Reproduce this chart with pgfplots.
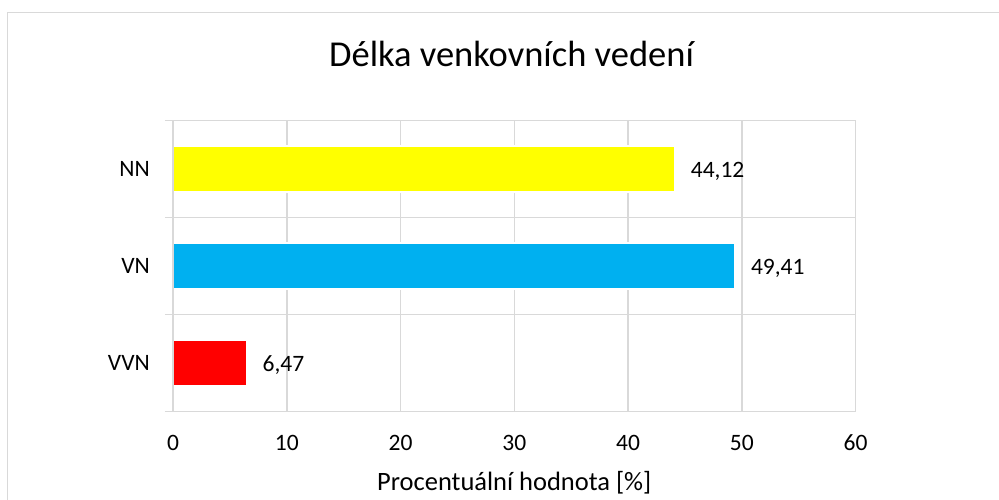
\documentclass[border=0pt]{standalone}
\usepackage{fontspec}
\setmainfont{Carlito}
\usepackage{pgfplots}
\pgfplotsset{compat=1.18}
\definecolor{gridgray}{HTML}{D9D9D9}
\definecolor{barYellow}{HTML}{FFFF00}
\definecolor{barBlue}{HTML}{00B0F0}
\definecolor{barRed}{HTML}{FF0000}
\begin{document}
\begin{tikzpicture}
\useasboundingbox (0bp,0bp) rectangle (999bp,500bp);
\fill[white] (0bp,0bp) rectangle (999bp,500bp);
\draw[gridgray, line width=1.6bp] (7.5bp,-10bp) -- (7.5bp,487.5bp) -- (1010bp,487.5bp);
\begin{axis}[
  at={(173bp,88.5bp)}, anchor=south west,
  scale only axis, width=682.5bp, height=291bp,
  xmin=0, xmax=60, ymin=-0.5, ymax=2.5,
  xtick={0,10,20,30,40,50,60},
  ytick={0,1,2}, yticklabels={VVN,VN,NN},
  minor ytick={-0.5,0.5,1.5,2.5},
  xmajorgrids, yminorgrids,
  grid style={draw=gridgray, line width=1.5bp},
  minor grid style={draw=gridgray, line width=1.5bp},
  axis line style={draw=gridgray, line width=1.5bp},
  major tick length=0pt, minor tick length=8bp,
  tick align=outside, ytick pos=left, xtick pos=bottom,
  tick style={draw=gridgray, line width=1.5bp},
  /pgf/number format/assume math mode=true,
  ticklabel style={font=\fontsize{23.5bp}{28bp}\selectfont, text=black},
  xticklabel style={anchor=base, inner sep=0pt, yshift=-39.2bp},
  yticklabel style={anchor=base east, inner sep=0pt, xshift=-23bp, yshift=-7.4bp},
  xlabel={Procentuální hodnota [\%]},
  xlabel style={at={(axis description cs:0.5,0)}, anchor=base, inner sep=0pt, yshift=-78.5bp, font=\fontsize{26.5bp}{31bp}\selectfont},
  xbar, bar width=46bp, bar shift=0pt,
  nodes near coords,
  every node near coord/.append style={anchor=west, inner sep=0pt, xshift=15bp, yshift=-2bp, font=\fontsize{23.5bp}{28bp}\selectfont, text=black,
    /pgf/number format/.cd, fixed, fixed zerofill, precision=2, use comma, assume math mode=true},
]
\addplot[fill=barRed, draw=white, line width=2bp] coordinates {(6.47,0)};
\addplot[fill=barBlue, draw=white, line width=2bp] coordinates {(49.41,1)};
\addplot[fill=barYellow, draw=white, line width=2bp] coordinates {(44.12,2)};
\draw[gridgray, line width=1.5bp] (axis cs:0,-0.5) -- (axis cs:0,2.5);
\end{axis}
\node[anchor=base, inner sep=0pt, font=\fontsize{36.5bp}{44bp}\selectfont] at (511.5bp,433.3bp) {Délka venkovních vedení};
\end{tikzpicture}
\end{document}
